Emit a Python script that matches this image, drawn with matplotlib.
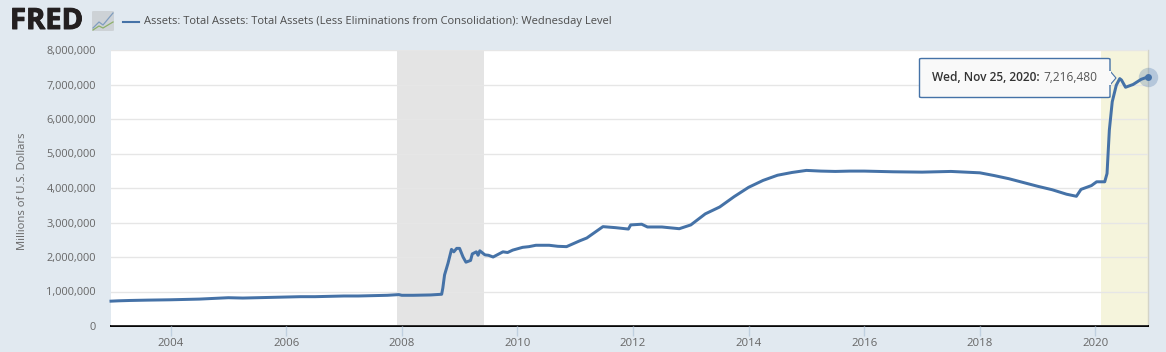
import matplotlib
matplotlib.use("Agg")
import matplotlib.pyplot as plt
import matplotlib.patheffects as pe
from matplotlib.patches import FancyBboxPatch, Polygon, Rectangle
from matplotlib.lines import Line2D

plt.rcParams['font.family'] = ['Open Sans', 'DejaVu Sans']

# decimal year, millions of USD
years = [2002.97,2003.1,2003.3,2003.6,2004.0,2004.25,2004.5,2004.75,2005.0,2005.25,2005.5,2005.75,
         2006.0,2006.25,2006.5,2006.75,2007.0,2007.25,2007.5,2007.75,2007.95,2008.0,2008.2,2008.5,2008.69,
         2008.71,2008.74,2008.80,2008.86,2008.90,2008.95,2009.0,2009.06,2009.11,2009.19,2009.22,
         2009.29,2009.32,2009.35,2009.44,2009.5,2009.58,2009.75,2009.83,2009.92,2010.09,2010.2,2010.32,2010.55,2010.7,
         2010.85,2011.08,2011.2,2011.48,2011.7,2011.92,2011.96,2012.15,2012.25,2012.5,2012.8,
         2013.0,2013.25,2013.5,2013.75,2014.0,2014.25,2014.5,2014.75,2015.0,2015.25,2015.5,
         2015.75,2016.0,2016.5,2017.0,2017.5,2018.0,2018.25,2018.5,2018.75,2019.0,2019.25,
         2019.5,2019.67,2019.75,2019.93,2020.02,2020.16,2020.2,2020.24,2020.29,2020.36,2020.42,
         2020.45,2020.52,2020.65,2020.79,2020.90]
assets = [0.72,0.73,0.74,0.75,0.76,0.77,0.78,0.80,0.82,0.81,0.82,0.83,
          0.84,0.85,0.85,0.86,0.87,0.87,0.88,0.89,0.91,0.89,0.89,0.90,0.92,
          1.10,1.48,1.82,2.22,2.15,2.25,2.25,2.00,1.85,1.90,2.09,
          2.15,2.05,2.18,2.06,2.05,2.00,2.15,2.13,2.20,2.28,2.30,2.34,2.34,2.31,
          2.30,2.47,2.55,2.88,2.85,2.81,2.93,2.95,2.87,2.87,2.82,
          2.93,3.25,3.45,3.75,4.02,4.22,4.37,4.45,4.51,4.49,4.48,
          4.49,4.49,4.47,4.46,4.48,4.44,4.36,4.27,4.16,4.05,3.95,
          3.82,3.76,3.96,4.07,4.18,4.18,4.42,5.68,6.50,6.98,7.17,
          7.13,6.92,7.00,7.15,7.21648]
y_ticks = [0,1,2,3,4,5,6,7,8]
y_labels = ['0','1,000,000','2,000,000','3,000,000','4,000,000','5,000,000','6,000,000','7,000,000','8,000,000']
x_ticks = [2004,2006,2008,2010,2012,2014,2016,2018,2020]
recession = (2007.91,2009.42)
highlight = (2020.09,2020.90)
series_name = 'Assets: Total Assets: Total Assets (Less Eliminations from Consolidation): Wednesday Level'
last_date = 'Wed, Nov 25, 2020:'
last_value = '7,216,480'

W,H = 1166,352
BG = '#E1E9F0'
BLUE = '#4572A7'
fig = plt.figure(figsize=(W/100,H/100),dpi=100,facecolor=BG)
def fx(x): return x/W
def fy(y): return 1-y/H

ax = fig.add_axes([fx(111),fy(326),(1147.5-111)/W,(326-50)/H],facecolor='white')
ax.set_xlim(2002.97,2020.90)
ax.set_ylim(0,8)
ax.axvspan(*recession,color='#E4E4E4',lw=0,zorder=1)
ax.axvspan(*highlight,color='#F5F4DC',lw=0,zorder=1)
ax.set_yticks(y_ticks)
ax.set_yticklabels(y_labels,fontsize=7.9,color='#666666')
ax.set_xticks(x_ticks)
ax.set_xticklabels([str(t) for t in x_ticks],fontsize=8.2,color='#666666')
ax.grid(axis='y',color='#E6E6E6',lw=1,zorder=2)
ax.set_axisbelow(False)
ax.tick_params(axis='y',length=0,pad=10.8)
ax.tick_params(axis='x',length=7,width=1,color='#C0D0E0',pad=2)
for s in ('top','left'):
    ax.spines[s].set_visible(False)
ax.spines['right'].set_color('#D4D4C8'); ax.spines['right'].set_linewidth(1)
ax.spines['bottom'].set_color('black'); ax.spines['bottom'].set_linewidth(1.4)
fig.text(fx(23),fy(191.5),'Millions of U.S. Dollars',fontsize=8.1,color='#666666',rotation=90,ha='center',va='center')

ax.plot(years,assets,color=BLUE,lw=2.15,zorder=4,solid_joinstyle='round',clip_on=False)
ax.plot(years[-1],assets[-1],'o',ms=14,color=BLUE,alpha=0.28,mew=0,zorder=5,clip_on=False)
ax.plot(years[-1],assets[-1],'o',ms=5,color=BLUE,mew=0,zorder=6,clip_on=False)

# header
fig.text(fx(10),fy(21.5),'FRED',fontsize=21,fontweight='bold',color='#231F20',va='center',ha='left',family=['Open Sans'],
         path_effects=[pe.withStroke(linewidth=0.7,foreground='#231F20')])
icon = FancyBboxPatch((fx(92),fy(31)),22/W,20/H,boxstyle='round,pad=0,rounding_size=0.002',
                      transform=fig.transFigure,fc='#CDD2D6',ec='none')
fig.add_artist(icon)
fig.add_artist(Line2D([fx(93),fx(99),fx(103),fx(108),fx(113)],[fy(28),fy(22),fy(25),fy(19),fy(13)],color='#7F9DBF',lw=0.9,transform=fig.transFigure))
fig.add_artist(Line2D([fx(93),fx(99),fx(103),fx(108),fx(113)],[fy(30),fy(26),fy(28),fy(25),fy(22)],color='#8DB06A',lw=0.9,transform=fig.transFigure))
fig.add_artist(Line2D([fx(123),fx(139)],[fy(22),fy(22)],color=BLUE,lw=1.5,transform=fig.transFigure))
fig.text(fx(144),fy(21.5),series_name,fontsize=7.98,color='#4D4D4D',va='center',ha='left')

# tooltip
box = FancyBboxPatch((fx(919.5),fy(97.5)),(1110-919.5)/W,(97.5-58.5)/H,boxstyle='round,pad=0,rounding_size=0.002',
                     transform=fig.transFigure,fc='#F9F9F9',ec=BLUE,lw=1,zorder=10)
fig.add_artist(box)
fig.add_artist(Polygon([(fx(1110),fy(71)),(fx(1116),fy(78)),(fx(1110),fy(85))],closed=True,transform=fig.transFigure,
                       fc='#F9F9F9',ec=BLUE,lw=0.8,zorder=10))
fig.add_artist(Rectangle((fx(1108.5),fy(84.5)),2.5/W,13/H,transform=fig.transFigure,fc='#F9F9F9',ec='none',zorder=11))
t = fig.text(fx(932),fy(77.5),last_date,fontsize=8.6,fontweight='semibold',color='#333333',va='center',ha='left',zorder=12)
fig.canvas.draw()
bb = t.get_window_extent()
fig.text(bb.x1/W+3.5/W,fy(77.5),last_value,fontsize=8.55,color='#555555',va='center',ha='left',zorder=12)

fig.savefig('out.png',dpi=100,facecolor=BG)
